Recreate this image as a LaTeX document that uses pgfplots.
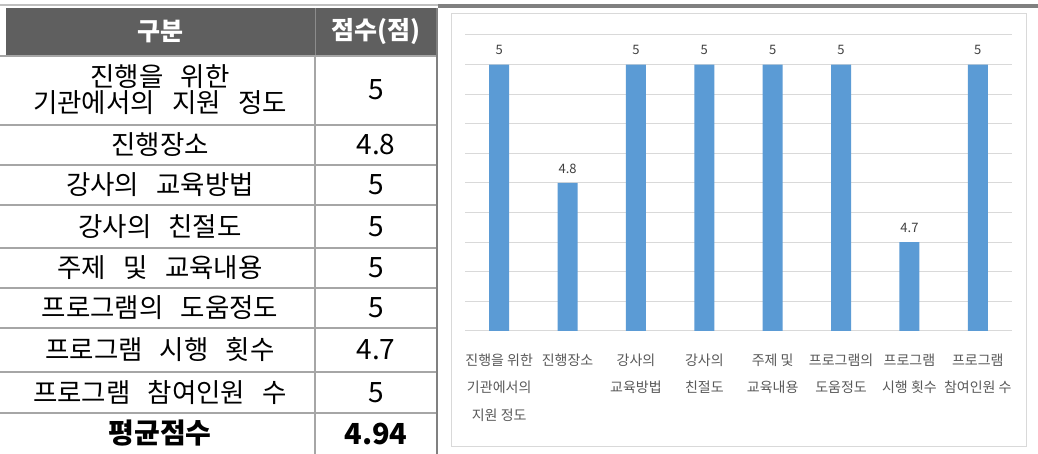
\documentclass[border=0pt]{standalone}
\usepackage{fontspec}
\setmainfont{Noto Sans CJK KR}
\newfontfamily\tablefont{Noto Sans CJK KR}[WordSpace=2.9]
\usepackage{pgfplots}
\pgfplotsset{compat=1.18}

\definecolor{barblue}{HTML}{5B9BD5}
\definecolor{gridgray}{HTML}{D9D9D9}
\definecolor{headgray}{HTML}{5F5F5F}
\definecolor{linegray}{HTML}{A6A6A6}
\definecolor{labgray}{HTML}{595959}

\begin{document}
\begin{tikzpicture}
\path[use as bounding box] (0,0) rectangle (1038pt,454pt);
\begin{scope}[x=1pt,y=1pt]
  % top rules
  \fill[black!25] (0,448) rectangle (438,450);
  \fill[black!50] (438,446) rectangle (1038,450);
  % header
  \fill[headgray] (6,399) rectangle (437,446);
  \draw[black!45, line width=1pt] (315,399) -- (315,446);
  \node[text=white, font=\fontsize{25}{30}\selectfont\bfseries] at (160,422.5) {구분};
  \node[text=white, font=\fontsize{25}{30}\selectfont\bfseries] at (376,422.5) {점수(점)};
  % row rules
  \foreach \y in {56,125,165,205,248,288,328,372,413}
    \draw[linegray, line width=1.2pt] (0,{454-\y}) -- (437,{454-\y});
  \draw[linegray, line width=1.2pt] (315,0) -- (315,398);
  \draw[black!50, line width=2pt] (437,0) -- (437,446);
  % rows
  \begin{scope}[every node/.style={font=\tablefont\fontsize{26.5}{30}\selectfont},
                val/.style={font=\tablefont\fontsize{28}{30}\selectfont}]
    \node at (160,{454-77}) {진행을 위한};
    \node at (160,{454-103}) {기관에서의 지원 정도};
    \node[val] at (376,{454-90}) {5};
    \node at (160,{454-145}) {진행장소};
    \node[val] at (376,{454-145}) {4.8};
    \node at (160,{454-185}) {강사의 교육방법};
    \node[val] at (376,{454-185}) {5};
    \node at (160,{454-226.5}) {강사의 친절도};
    \node[val] at (376,{454-226.5}) {5};
    \node at (160,{454-268}) {주제 및 교육내용};
    \node[val] at (376,{454-268}) {5};
    \node at (160,{454-308}) {프로그램의 도움정도};
    \node[val] at (376,{454-308}) {5};
    \node at (160,{454-350}) {프로그램 시행 횟수};
    \node[val] at (376,{454-350}) {4.7};
    \node at (160,{454-392.5}) {프로그램 참여인원 수};
    \node[val] at (376,{454-392.5}) {5};
    \node[font=\tablefont\fontsize{28}{30}\selectfont\bfseries] at (160,{454-433.5}) {평균점수};
    \node[font=\tablefont\fontsize{29}{30}\selectfont\bfseries] at (376,{454-433.5}) {4.94};
  \end{scope}
  % chart frame
  \draw[gridgray, line width=1pt, fill=white] (451,7) rectangle (1026,440);
\end{scope}

\begin{axis}[
  at={(465pt,123pt)}, anchor=south west,
  scale only axis, width=547pt, height=296pt,
  ybar, bar width=20pt,
  xmin=-0.5, xmax=7.5, ymin=4.55, ymax=5.05,
  xtick={0,...,7},
  xticklabels={{진행을 위한\\기관에서의\\지원 정도},{진행장소},{강사의\\교육방법},{강사의\\친절도},{주제 및\\교육내용},{프로그램의\\도움정도},{프로그램\\시행 횟수},{프로그램\\참여인원 수}},
  xticklabel style={align=center, font=\fontsize{14}{27.5}\selectfont, text=labgray, anchor=north, yshift=-19pt},
  ytick={4.55,4.6,4.65,4.7,4.75,4.8,4.85,4.9,4.95,5,5.05},
  yticklabels={},
  ymajorgrids, grid style={gridgray, line width=1pt},
  major tick length=0pt,
  axis line style={draw=none},
  /pgf/number format/assume math mode=true,
  nodes near coords,
  nodes near coords style={font=\fontsize{13}{15}\selectfont, text=black!75, yshift=6pt},
]
\addplot[fill=barblue, draw=none] coordinates {(0,5) (1,4.8) (2,5) (3,5) (4,5) (5,5) (6,4.7) (7,5)};
\end{axis}
\end{tikzpicture}
\end{document}
